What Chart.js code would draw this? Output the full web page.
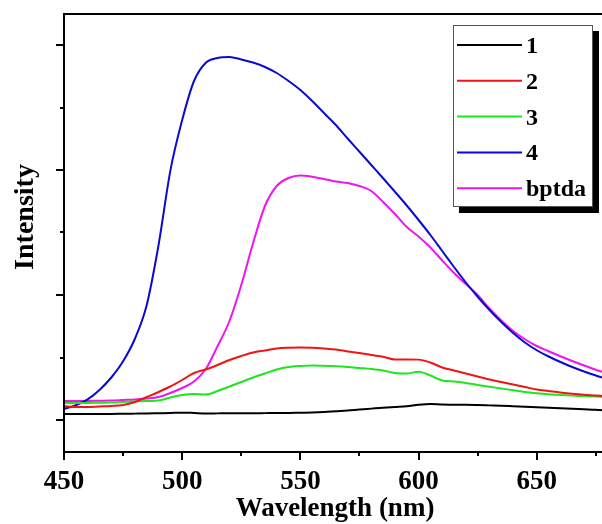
<!DOCTYPE html>
<html lang="en">
<head>
<meta charset="UTF-8">
<title>Emission spectra</title>
<script src="https://cdn.jsdelivr.net/npm/chart.js"></script>
<style>
  html, body { margin: 0; padding: 0; background: #fff; }
</style>
</head>
<body>
<canvas id="spectra" width="602" height="524"></canvas>
<script>
// wavelength grid (nm), shared by every spectrum
const wavelengths = [450, 455, 460, 465, 470, 475, 480, 485, 490, 495,
  500, 505, 510, 515, 520, 525, 530, 535, 540, 545,
  550, 555, 560, 565, 570, 575, 580, 585, 590, 595,
  600, 605, 610, 615, 620, 625, 630, 635, 640, 645,
  650, 655, 660, 665, 670, 675, 678];

// intensities (a.u.)
const sample1 = [48, 48, 48, 48, 48, 50, 51, 52, 54, 56,
  59, 56, 52, 53, 54, 54, 54, 55, 56, 56,
  58, 60, 64, 70, 76, 84, 91, 98, 104, 110,
  122, 128, 124, 122, 122, 120, 117, 114, 110, 106,
  102, 98, 94, 90, 86, 82, 78];
const sample2 = [112, 104, 104, 108, 112, 120, 144, 184, 224, 268,
  320, 376, 404, 440, 480, 512, 540, 556, 572, 578,
  580, 578, 572, 564, 548, 536, 520, 506, 484, 484,
  483, 460, 420, 396, 372, 348, 324, 304, 284, 264,
  244, 232, 220, 210, 202, 196, 192];
const sample3 = [136, 136, 136, 138, 140, 144, 148, 152, 156, 180,
  200, 208, 204, 232, 268, 304, 340, 372, 404, 424,
  432, 436, 434, 430, 424, 416, 408, 396, 376, 372,
  386, 356, 316, 308, 296, 280, 266, 252, 238, 224,
  214, 206, 200, 195, 191, 187, 184];
const sample4 = [88, 118, 165, 240, 340, 470, 650, 920, 1400, 1995,
  2400, 2712, 2858, 2896, 2904, 2884, 2860, 2824, 2776, 2712,
  2640, 2552, 2456, 2360, 2252, 2146, 2040, 1934, 1826, 1716,
  1600, 1480, 1352, 1224, 1100, 986, 880, 784, 696, 620,
  558, 508, 464, 424, 388, 356, 338];
const ligand = [152, 152, 152, 154, 156, 160, 164, 172, 184, 216,
  256, 308, 408, 592, 792, 1080, 1416, 1712, 1872, 1936,
  1956, 1946, 1928, 1908, 1896, 1872, 1832, 1744, 1648, 1544,
  1468, 1380, 1276, 1176, 1088, 1000, 892, 796, 712, 646,
  592, 550, 510, 472, 436, 402, 384];

const seriesNames = ['1', '2', '3', '4', 'bptda'];
const seriesColors = ['#000000', '#f01414', '#1ee61e', '#0a0ad2', '#f014f0'];

const xMajorTicks = [450, 500, 550, 600, 650];
const xMinorTicks = [475, 525, 575, 625, 675];
const yMajorTicks = [0, 1000, 2000, 3000];
const yMinorTicks = [500, 1500, 2500];

const serif = '"Liberation Serif", "Times New Roman", serif';

function toPoints(values) {
  return values.map((v, i) => ({ x: wavelengths[i], y: v }));
}

// axes frame, tick marks, titles and the boxed legend with its drop shadow
const decorations = {
  id: 'decorations',
  afterDraw(chart) {
    const ctx = chart.ctx;
    const a = chart.chartArea;
    const xs = chart.scales.x;
    const ys = chart.scales.y;
    ctx.save();
    ctx.strokeStyle = '#000';
    ctx.lineWidth = 2;
    ctx.beginPath();
    ctx.moveTo(a.left, a.top); ctx.lineTo(a.right, a.top);
    ctx.moveTo(a.left, a.top - 1); ctx.lineTo(a.left, a.bottom + 1);
    ctx.moveTo(a.left, a.bottom); ctx.lineTo(a.right, a.bottom);
    xMajorTicks.forEach(v => {
      const px = Math.round(xs.getPixelForValue(v));
      ctx.moveTo(px, a.bottom); ctx.lineTo(px, a.bottom + 8);
    });
    xMinorTicks.forEach(v => {
      const px = Math.round(xs.getPixelForValue(v));
      ctx.moveTo(px, a.bottom); ctx.lineTo(px, a.bottom + 4);
    });
    yMajorTicks.forEach(v => {
      const py = Math.round(ys.getPixelForValue(v));
      ctx.moveTo(a.left, py); ctx.lineTo(a.left - 8, py);
    });
    yMinorTicks.forEach(v => {
      const py = Math.round(ys.getPixelForValue(v));
      ctx.moveTo(a.left, py); ctx.lineTo(a.left - 4, py);
    });
    ctx.stroke();

    // tick labels
    ctx.fillStyle = '#000';
    ctx.font = 'bold 27px ' + serif;
    ctx.textAlign = 'center';
    ctx.textBaseline = 'alphabetic';
    xMajorTicks.forEach(v => {
      ctx.fillText(String(v), xs.getPixelForValue(v), 489);
    });

    // axis titles
    ctx.fillText('Wavelength (nm)', (a.left + a.right) / 2 + 2, 516);
    ctx.save();
    ctx.font = 'bold 28px ' + serif;
    ctx.translate(33, 217);
    ctx.rotate(-Math.PI / 2);
    ctx.fillText('Intensity', 0, 0);
    ctx.restore();

    // legend
    const box = { x: 453, y: 25, w: 140, h: 182 };
    ctx.fillStyle = '#000';
    ctx.fillRect(box.x + 6, box.y + 6, box.w, box.h);
    ctx.fillStyle = '#fff';
    ctx.fillRect(box.x, box.y, box.w, box.h);
    ctx.strokeStyle = '#555';
    ctx.lineWidth = 1;
    ctx.strokeRect(box.x + 0.5, box.y + 0.5, box.w - 1, box.h - 1);

    ctx.font = 'bold 24px ' + serif;
    ctx.textAlign = 'left';
    chart.data.datasets.forEach((ds, i) => {
      const ly = 45 + i * 35.8;
      ctx.strokeStyle = ds.borderColor;
      ctx.lineWidth = 2;
      ctx.beginPath();
      ctx.moveTo(457, ly); ctx.lineTo(522, ly);
      ctx.stroke();
      ctx.fillStyle = '#000';
      ctx.fillText(ds.label, 526, ly + 8);
    });
    ctx.restore();
  }
};

const allSeries = [sample1, sample2, sample3, sample4, ligand];

new Chart(document.getElementById('spectra'), {
  type: 'line',
  data: {
    datasets: allSeries.map((vals, i) => ({
      label: seriesNames[i],
      data: toPoints(vals),
      borderColor: seriesColors[i],
      borderWidth: 2,
      pointRadius: 0,
      fill: false,
      cubicInterpolationMode: 'monotone'
    }))
  },
  options: {
    responsive: false,
    animation: false,
    layout: { padding: { top: 14, right: 0, bottom: 0, left: 0 } },
    plugins: {
      legend: { display: false },
      tooltip: { enabled: false }
    },
    scales: {
      x: {
        type: 'linear',
        min: 450,
        max: 677.6,
        grid: { display: false },
        border: { display: false },
        ticks: { display: false },
        afterFit: s => { s.height = 72; }
      },
      y: {
        min: -256,
        max: 3248,
        grid: { display: false },
        border: { display: false },
        ticks: { display: false },
        afterFit: s => { s.width = 64; }
      }
    }
  },
  plugins: [decorations]
});
</script>
</body>
</html>
